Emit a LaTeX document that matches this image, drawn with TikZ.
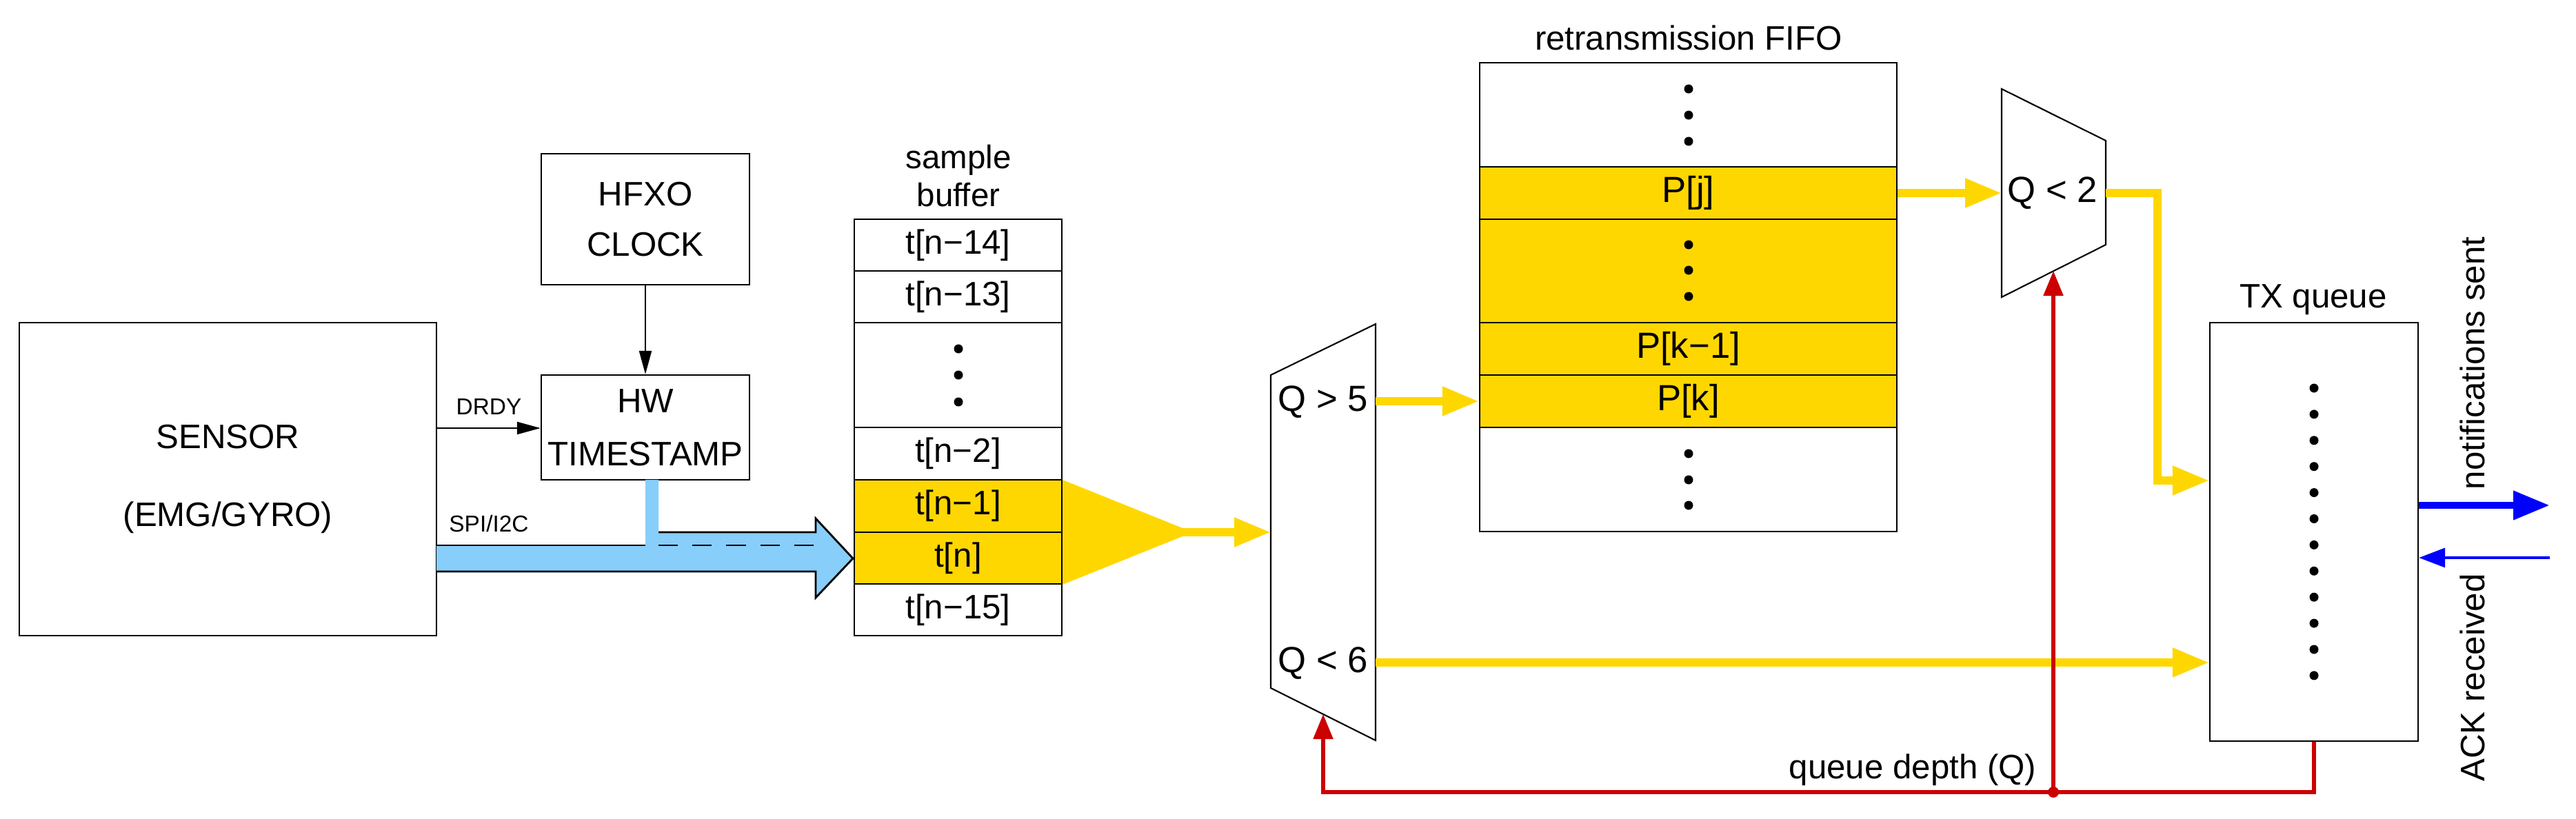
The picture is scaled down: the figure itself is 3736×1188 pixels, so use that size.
\documentclass[tikz,border=0pt]{standalone}
\usepackage{fontspec}
\setmainfont{Liberation Sans}
\usetikzlibrary{arrows.meta}
\definecolor{gold}{HTML}{FFD700}
\definecolor{sky}{HTML}{87CEFA}
\definecolor{rred}{HTML}{CC0000}
\definecolor{bblue}{HTML}{0000FF}
\begin{document}
\begin{tikzpicture}[x=0.01cm,y=-0.01cm,
  box/.style={draw,line width=0.6pt,inner sep=0pt,align=center,font=\fontsize{14}{17}\selectfont},
  cell/.style={draw,line width=0.6pt,inner sep=0pt,font=\fontsize{14}{17}\selectfont},
  hl/.style={fill=gold},
  lbl/.style={inner sep=0pt,font=\fontsize{14}{17}\selectfont},
  small/.style={inner sep=0pt,font=\fontsize{9.5}{11}\selectfont},
  mux/.style={draw,line width=0.6pt,fill=white},
  blk/.style={line width=0.6pt,-{Triangle[length=0.34cm,width=0.18cm]}},
  yel/.style={draw=gold,line width=3.2pt,-{Triangle[length=0.53cm,width=0.4cm]}},
  ylin/.style={draw=gold,line width=3.2pt},
  red/.style={draw=rred,line width=1.5pt},
  redarr/.style={red,-{Triangle[length=0.36cm,width=0.28cm]}},
  dot/.style={fill=black}
]
\useasboundingbox (0,0) rectangle (3736,1188);

% sensor, clock, timestamp
\node[box,minimum width=6.05cm,minimum height=4.54cm] (sensor) at (330.5,695) {SENSOR\\[15pt](EMG/GYRO)};
\node[box,minimum width=3.02cm,minimum height=1.9cm] (hfxo) at (936,318) {HFXO\\[4pt]CLOCK};
\node[box,minimum width=3.02cm,minimum height=1.52cm] (hw) at (936,620) {HW\\[5pt]TIMESTAMP};
\draw[blk] (hfxo.south) -- (hw.north);
\coordinate (drdy0) at (633,621);
\draw[blk] (drdy0) -- (hw.west |- drdy0);
\node[small] (drdyl) at (709,590) {DRDY};
\node[small] (spil) at (709,760) {SPI/I2C};

% big blue arrow
\fill[sky] (633,791) -- (936,791) -- (936,696) -- (955,696) -- (955,772) -- (1183,772) -- (1183,752) -- (1237,810) -- (1183,867) -- (1183,829) -- (633,829) -- cycle;
\draw[line width=0.8pt] (633,791) -- (936,791);
\draw[line width=0.8pt] (955,696) -- (955,696);
\draw[line width=0.8pt] (955,772) -- (1183,772) -- (1183,752) -- (1237,810) -- (1183,867) -- (1183,829) -- (633,829);
\draw[line width=0.8pt,dash pattern=on 8pt off 6pt] (955,791) -- (1183,791);

% sample buffer
\node[lbl,align=center,font=\fontsize{13.5}{15.4}\selectfont] (sbl) at (1390,255) {sample\\buffer};
\node[cell,minimum width=3.01cm,minimum height=0.75cm] (b1) at (1389.5,355.5) {t[n−14]};
\node[cell,minimum width=3.01cm,minimum height=0.75cm] (b2) at (1389.5,430.5) {t[n−13]};
\node[cell,minimum width=3.01cm,minimum height=1.52cm] (b3) at (1389.5,544) {};
\node[cell,minimum width=3.01cm,minimum height=0.76cm] (b4) at (1389.5,658) {t[n−2]};
\node[cell,hl,minimum width=3.01cm,minimum height=0.76cm] (b5) at (1389.5,734) {t[n−1]};
\node[cell,hl,minimum width=3.01cm,minimum height=0.75cm] (b6) at (1389.5,809.5) {t[n]};
\node[cell,minimum width=3.01cm,minimum height=0.75cm] (b7) at (1389.5,884.5) {t[n−15]};
\foreach \yy in {506,544,583} \fill (1390,\yy) circle[radius=0.065cm];

% funnel
\fill[gold] (1541,696) -- (1715,766) -- (1715,778) -- (1541,848) -- cycle;
\coordinate (ftip) at (1712,772);

% mux 1
\draw[mux] (1843,544) -- (1995,470) -- (1995,1074) -- (1843,998) -- cycle;
\node[lbl,font=\fontsize{15}{18}\selectfont] (m1a) at (1919,583) {Q > 5};
\node[lbl,font=\fontsize{15}{18}\selectfont] (m1b) at (1919,962) {Q < 6};
\coordinate (m1in) at (1843,772);
\coordinate (m1o1) at (1995,582);
\coordinate (m1o2) at (1995,961);
\coordinate (m1bot) at (1919,1036);
\draw[yel] (ftip) -- (m1in);

% FIFO
\node[lbl] (fifol) at (2449,55) {retransmission FIFO};
\node[cell,minimum width=6.05cm,minimum height=1.51cm] (f1) at (2448.5,166.5) {};
\node[cell,hl,minimum width=6.05cm,minimum height=0.76cm,font=\fontsize{15}{18}\selectfont] (f2) at (2448.5,280) {P[j]};
\node[cell,hl,minimum width=6.05cm,minimum height=1.5cm] (f3) at (2448.5,393) {};
\node[cell,hl,minimum width=6.05cm,minimum height=0.76cm,font=\fontsize{15}{18}\selectfont] (f4) at (2448.5,506) {P[k−1]};
\node[cell,hl,minimum width=6.05cm,minimum height=0.76cm,font=\fontsize{15}{18}\selectfont] (f5) at (2448.5,582) {P[k]};
\node[cell,minimum width=6.05cm,minimum height=1.51cm] (f6) at (2448.5,695.5) {};
\foreach \yy in {129,167,205,355,392,430,658,696,733} \fill (2449,\yy) circle[radius=0.065cm];
\draw[yel] (m1o1) -- (f5.west);

% mux 2
\draw[mux] (2903,129) -- (3054,204) -- (3054,355) -- (2903,431) -- cycle;
\node[lbl,font=\fontsize{15}{18}\selectfont] (m2) at (2977,280) {Q < 2};
\coordinate (m2in) at (2903,280);
\coordinate (m2out) at (3054,280);
\coordinate (m2bot) at (2978,393);
\draw[yel] (f2.east) -- (m2in);

% TX queue
\node[lbl] (txl) at (3355,435) {TX queue};
\node[box,minimum width=3.02cm,minimum height=6.07cm] (tx) at (3356,771.5) {};
\foreach \i in {0,...,11} \fill (3356,563+\i*37.9) circle[radius=0.065cm];
\draw[yel] (m2out) -- (3129,280) -- (3129,697) -- (tx.west |- 0,697);
\draw[yel] (m1o2) -- (tx.west |- m1o2);

% queue depth feedback
\coordinate (j) at (2978,1149);
\draw[red] (tx.south) -- (3356,1149) -- (j);
\draw[redarr] (j) -- (1919,1149) -- (m1bot);
\draw[redarr] (j) -- (m2bot);
\fill[rred] (j) circle[radius=0.08cm];
\node[lbl,anchor=east] (qdl) at (2954,1117) {queue depth (Q)};

% notifications / ACK
\coordinate (nend) at (3698,733);
\coordinate (aend) at (3698,809);
\draw[bblue,line width=3pt,-{Triangle[length=0.53cm,width=0.4cm]}] (tx.east |- nend) -- (nend);
\draw[bblue,line width=1pt,-{Triangle[length=0.38cm,width=0.28cm]}] (aend) -- (tx.east |- aend);
\node[lbl,rotate=90] (nsl) at (3586,527) {notifications sent};
\node[lbl,rotate=90] (ackl) at (3586,983) {ACK received};
\end{tikzpicture}
\end{document}
